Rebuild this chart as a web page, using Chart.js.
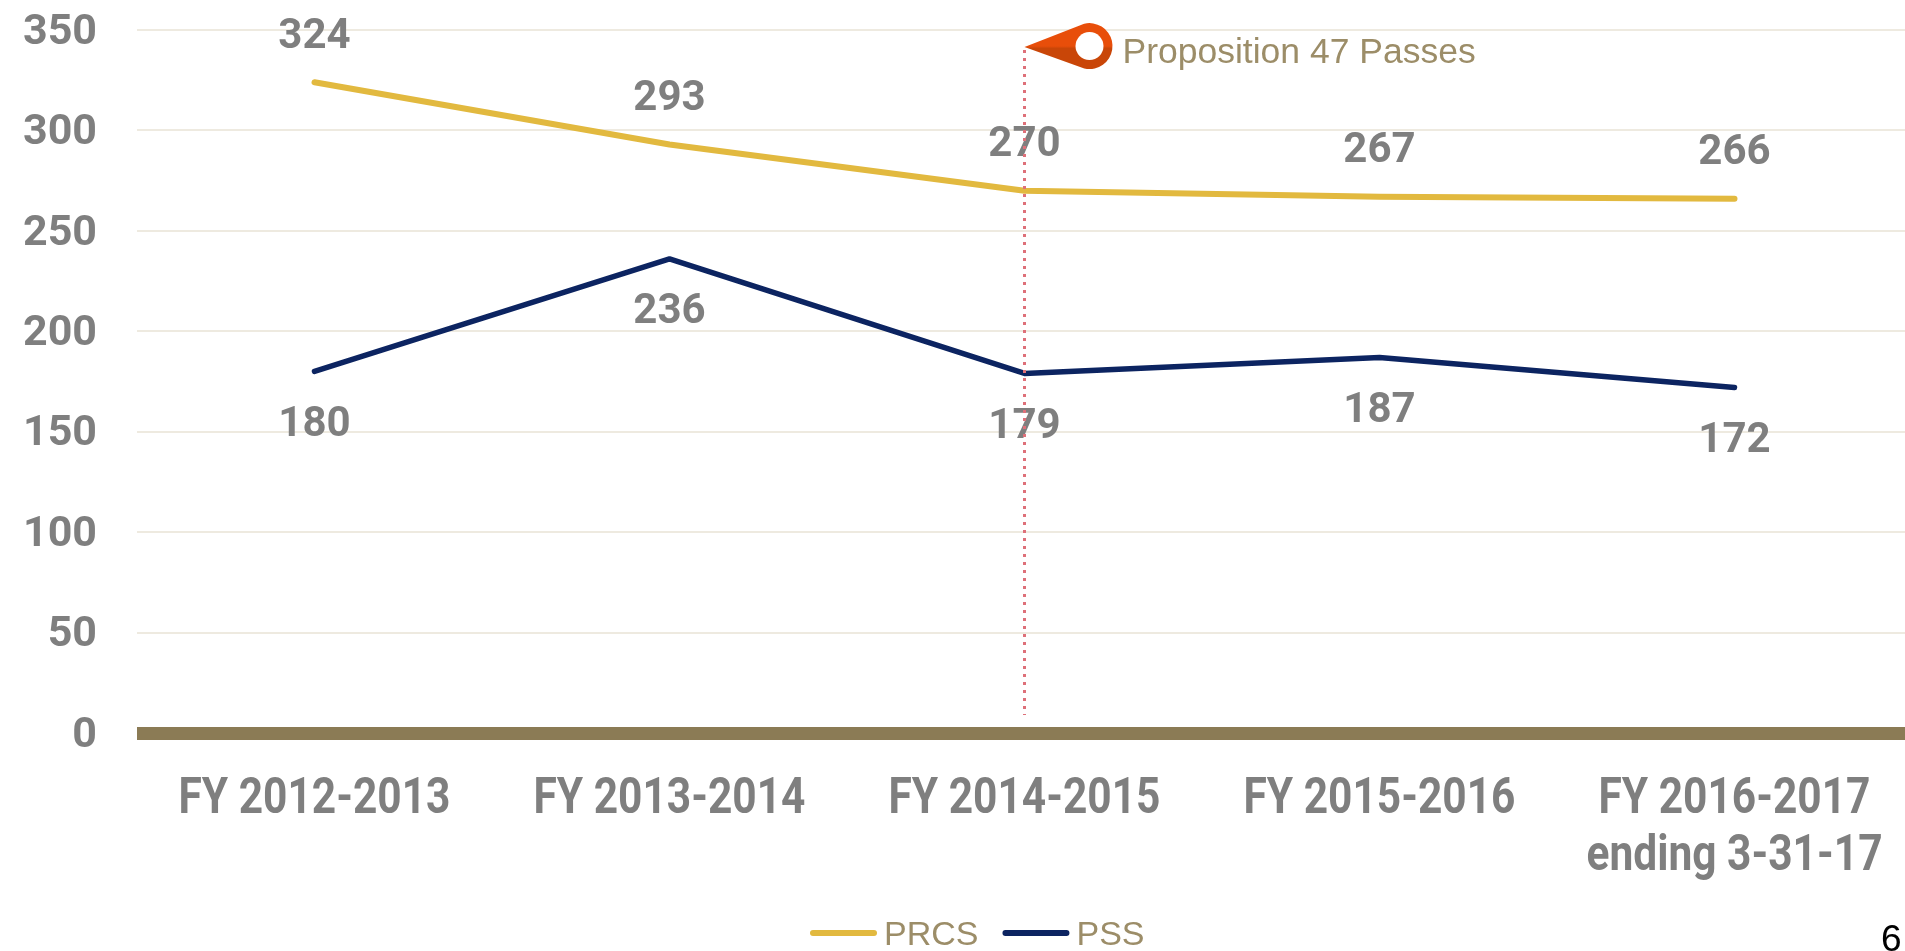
<!DOCTYPE html>
<html>
<head>
<meta charset="utf-8">
<title>PRCS and PSS</title>
<script src="https://cdn.jsdelivr.net/npm/chart.js@4"></script>
<style>
  html, body { margin: 0; width: 1905px; height: 951px; overflow: hidden; background: #fff; }
  #myChart { position: absolute; left: 0; top: 0; }
  #pageNo { position: absolute; left: 1881px; top: 919px; font: 37px/40px "Liberation Sans", sans-serif; color: #000; }
</style>
</head>
<body>
<canvas id="myChart" width="1912" height="951"></canvas>
<div id="pageNo">6</div>
<script>
const categories = ['FY 2012-2013', 'FY 2013-2014', 'FY 2014-2015', 'FY 2015-2016', ['FY 2016-2017', 'ending 3-31-17']];
const prcs = [324, 293, 270, 267, 266];
const pss = [180, 236, 179, 187, 172];
const yTicks = [0, 50, 100, 150, 200, 250, 300, 350];

const markerCategory = 2;
const markerTop = 340;
const markerBottom = 9;
const markerLabel = 'Proposition 47 Passes';

const gray = '#7f7f7f';
const tan = '#9c8d68';
const boldDigits = 'bold 42px Roboto';

// values above the PRCS line, below the PSS line
const valueLabels = {
    id: 'valueLabels',
    afterDatasetsDraw(chart) {
        const { ctx, scales: { x, y } } = chart;
        ctx.save();
        ctx.font = boldDigits;
        ctx.fillStyle = gray;
        ctx.textAlign = 'center';
        ctx.textBaseline = 'middle';
        prcs.forEach((v, i) => ctx.fillText(v, x.getPixelForValue(i), y.getPixelForValue(v) - 45));
        pss.forEach((v, i) => ctx.fillText(v, x.getPixelForValue(i), y.getPixelForValue(v) + 54));
        ctx.restore();
    }
};

// category labels are squeezed sideways, no narrow font is installed
const categoryLabels = {
    id: 'categoryLabels',
    afterDraw(chart) {
        const { ctx, scales: { x, y } } = chart;
        const squeeze = 0.85;
        ctx.save();
        ctx.font = 'bold 50px Roboto';
        ctx.fillStyle = gray;
        ctx.textAlign = 'center';
        ctx.textBaseline = 'middle';
        categories.forEach((c, i) => {
            [].concat(c).forEach((line, n) => {
                ctx.save();
                ctx.translate(x.getPixelForValue(i), y.bottom + 67 + n * 57);
                ctx.scale(squeeze, 1);
                ctx.fillText(line, 0, 0);
                ctx.restore();
            });
        });
        ctx.restore();
    }
};

// dotted line and pin for the Prop 47 note
const marker = {
    id: 'marker',
    afterDatasetsDraw(chart) {
        const { ctx, scales: { x, y } } = chart;
        const px = x.getPixelForValue(markerCategory);
        const top = y.getPixelForValue(markerTop);
        ctx.save();
        ctx.strokeStyle = '#de7079';
        ctx.lineWidth = 3;
        ctx.setLineDash([3, 5]);
        ctx.beginPath();
        ctx.moveTo(px, top);
        ctx.lineTo(px, y.getPixelForValue(markerBottom));
        ctx.stroke();
        ctx.setLineDash([]);

        const cx = px + 65, cy = top - 4, r = 23;
        const grad = ctx.createLinearGradient(0, cy - r, 0, cy + r);
        grad.addColorStop(0, '#e84e0a');
        grad.addColorStop(0.5, '#e84e0a');
        grad.addColorStop(0.55, '#c94608');
        grad.addColorStop(1, '#c94608');
        ctx.fillStyle = grad;
        ctx.beginPath();
        ctx.moveTo(px, top - 3);
        ctx.lineTo(cx - 6, cy - r + 1);
        ctx.arc(cx, cy, r, -1.8, 1.8);
        ctx.closePath();
        ctx.fill();
        ctx.fillStyle = '#fff';
        ctx.beginPath();
        ctx.arc(cx, cy, 14, 0, Math.PI * 2);
        ctx.fill();

        ctx.fillStyle = tan;
        ctx.font = '35.5px "Liberation Sans"';
        ctx.textAlign = 'left';
        ctx.textBaseline = 'middle';
        ctx.fillText(markerLabel, px + 98, cy + 7);
        ctx.restore();
    }
};

// legend drawn by hand so the swatch sits close to its label
const legendRow = {
    id: 'legendRow',
    afterDraw(chart) {
        const { ctx } = chart;
        let lx = 810;
        const ly = 933;
        ctx.save();
        ctx.font = '34px "Liberation Sans"';
        ctx.textBaseline = 'middle';
        chart.data.datasets.forEach(ds => {
            ctx.strokeStyle = ds.borderColor;
            ctx.lineWidth = 6;
            ctx.lineCap = 'round';
            ctx.beginPath();
            ctx.moveTo(lx + 3, ly);
            ctx.lineTo(lx + 64, ly);
            ctx.stroke();
            ctx.fillStyle = tan;
            ctx.fillText(ds.label, lx + 74, ly + 3);
            lx += 74 + ctx.measureText(ds.label).width + 24;
        });
        ctx.restore();
    }
};

new Chart(document.getElementById('myChart'), {
    type: 'line',
    data: {
        labels: categories,
        datasets: [
            { label: 'PRCS', data: prcs, borderColor: '#e2b93f', backgroundColor: '#e2b93f', borderWidth: 6 },
            { label: 'PSS', data: pss, borderColor: '#0c2461', backgroundColor: '#0c2461', borderWidth: 5.5 }
        ]
    },
    options: {
        responsive: false,
        animation: false,
        layout: { padding: { top: 30, left: 0, right: 0, bottom: 0 } },
        elements: {
            point: { radius: 0 },
            line: { tension: 0, borderCapStyle: 'round', borderJoinStyle: 'round' }
        },
        plugins: {
            legend: { display: false },
            tooltip: { enabled: false }
        },
        scales: {
            x: {
                offset: true,
                afterFit(scale) { scale.height = 218; },
                grid: { display: false },
                border: { display: false },
                ticks: { display: false }
            },
            y: {
                min: 0,
                max: 350,
                afterFit(scale) {
                    scale.width = 137;
                    scale.paddingTop = 0;
                    scale.paddingBottom = 0;
                },
                afterBuildTicks(scale) { scale.ticks = yTicks.map(value => ({ value })); },
                border: { display: false },
                grid: {
                    drawTicks: false,
                    color: ctx => ctx.tick.value === 0 ? '#8b7b55' : '#eeeae0',
                    lineWidth: ctx => ctx.tick.value === 0 ? 13 : 2
                },
                ticks: {
                    padding: 40,
                    labelOffset: 3,
                    color: gray,
                    font: { family: 'Roboto', weight: 'bold', size: 43 }
                }
            }
        }
    },
    plugins: [valueLabels, marker, categoryLabels, legendRow]
});
</script>
</body>
</html>
